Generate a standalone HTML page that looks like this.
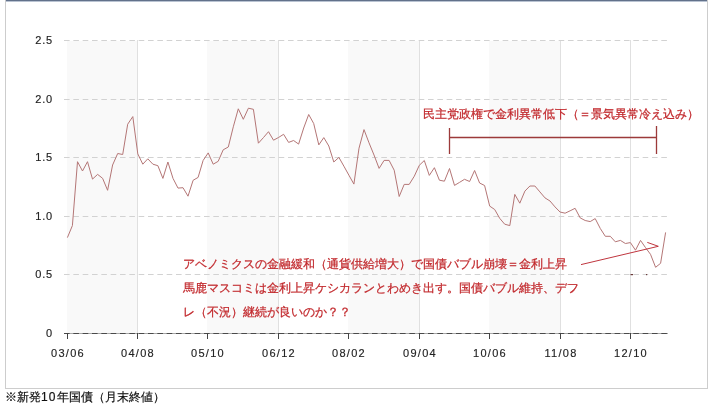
<!DOCTYPE html><html lang="ja"><head><meta charset="utf-8"><style>
html,body{margin:0;padding:0;background:#fff;width:716px;height:409px;overflow:hidden;position:relative}
.t{position:absolute;will-change:transform;font-family:"Liberation Sans",sans-serif;white-space:nowrap;line-height:14px}
.yl{font-size:11px;color:#222;-webkit-text-stroke:0.15px #222;letter-spacing:0.8px;text-align:right;width:60px}
.xl{font-size:11px;color:#222;-webkit-text-stroke:0.15px #222;letter-spacing:1.3px;text-align:center;width:60px}
.r{font-size:12px;color:#c22a2e;-webkit-text-stroke:0.25px #c22a2e}
</style></head><body>
<svg width="716" height="409" viewBox="0 0 716 409" style="position:absolute;left:0;top:0"><rect x="5.5" y="0.5" width="702" height="388" fill="#fff" stroke="#cdcdcd" stroke-width="1"/><rect x="6" y="0" width="701" height="1" fill="#62718a"/><rect x="6" y="1" width="701" height="1" fill="#b9c3d2"/><rect x="67" y="41" width="70" height="292" fill="#f9f9f9"/><rect x="207" y="41" width="71" height="292" fill="#f9f9f9"/><rect x="348" y="41" width="71" height="292" fill="#f9f9f9"/><rect x="489" y="41" width="71" height="292" fill="#f9f9f9"/><line x1="137.5" y1="40" x2="137.5" y2="333" stroke="#e0e0e0" stroke-width="1"/><line x1="278.5" y1="40" x2="278.5" y2="333" stroke="#e0e0e0" stroke-width="1"/><line x1="419.5" y1="40" x2="419.5" y2="333" stroke="#e0e0e0" stroke-width="1"/><line x1="560.5" y1="40" x2="560.5" y2="333" stroke="#e0e0e0" stroke-width="1"/><line x1="630.5" y1="40" x2="630.5" y2="333" stroke="#e0e0e0" stroke-width="1"/><line x1="64" y1="40.5" x2="668" y2="40.5" stroke="#d2d2d2" stroke-width="1" stroke-dasharray="5.6 3.733"/><line x1="64" y1="99.5" x2="668" y2="99.5" stroke="#d2d2d2" stroke-width="1" stroke-dasharray="5.6 3.733"/><line x1="64" y1="157.5" x2="668" y2="157.5" stroke="#d2d2d2" stroke-width="1" stroke-dasharray="5.6 3.733"/><line x1="64" y1="216.5" x2="668" y2="216.5" stroke="#d2d2d2" stroke-width="1" stroke-dasharray="5.6 3.733"/><line x1="64" y1="274.5" x2="668" y2="274.5" stroke="#d2d2d2" stroke-width="1" stroke-dasharray="5.6 3.733"/><line x1="64" y1="333.5" x2="668" y2="333.5" stroke="#a8a8a8" stroke-width="1"/><line x1="64" y1="333.5" x2="668" y2="333.5" stroke="#4a4a4a" stroke-width="1" stroke-dasharray="5.6 3.733"/><line x1="67.5" y1="333" x2="67.5" y2="339" stroke="#444" stroke-width="1"/><line x1="137.5" y1="333" x2="137.5" y2="339" stroke="#444" stroke-width="1"/><line x1="207.5" y1="333" x2="207.5" y2="339" stroke="#444" stroke-width="1"/><line x1="278.5" y1="333" x2="278.5" y2="339" stroke="#444" stroke-width="1"/><line x1="348.5" y1="333" x2="348.5" y2="339" stroke="#444" stroke-width="1"/><line x1="419.5" y1="333" x2="419.5" y2="339" stroke="#444" stroke-width="1"/><line x1="489.5" y1="333" x2="489.5" y2="339" stroke="#444" stroke-width="1"/><line x1="560.5" y1="333" x2="560.5" y2="339" stroke="#444" stroke-width="1"/><line x1="630.5" y1="333" x2="630.5" y2="339" stroke="#444" stroke-width="1"/><rect x="630.5" y="274" width="2.5" height="1.2" fill="#6a3a3a"/><rect x="646" y="274" width="1.2" height="1.2" fill="#6a3a3a"/><polyline points="67.4,237.6 72.4,225.6 77.5,161.7 82.5,171.0 87.5,161.7 92.5,179.1 97.6,174.4 102.6,178.3 107.6,190.3 112.6,165.0 117.7,153.5 122.7,154.5 127.7,124.2 132.8,116.6 137.8,153.9 142.8,164.2 147.8,158.8 152.9,164.2 157.9,165.7 162.9,178.4 167.9,162.0 173.0,178.4 178.0,188.1 183.0,187.7 188.0,196.2 193.1,180.3 198.1,177.4 203.1,160.5 208.2,152.9 213.2,164.2 218.2,161.3 223.2,149.8 228.3,147.0 233.3,126.8 238.3,108.8 243.3,119.3 248.4,108.2 253.4,109.3 258.4,143.2 263.5,137.5 268.5,131.7 273.5,140.2 278.5,137.5 283.6,134.3 288.6,142.4 293.6,140.5 298.6,144.1 303.7,128.0 308.7,114.5 313.7,123.5 318.8,144.9 323.8,137.6 328.8,146.0 333.8,162.0 338.9,157.4 343.9,166.2 348.9,175.2 353.9,184.1 359.0,148.2 364.0,129.6 369.0,142.8 374.0,155.0 379.1,168.4 384.1,160.4 389.1,160.4 394.2,170.2 399.2,196.5 404.2,184.4 409.2,184.4 414.3,176.2 419.3,165.3 424.3,160.5 429.3,175.4 434.4,167.7 439.4,180.2 444.4,181.2 449.5,168.5 454.5,185.4 459.5,182.4 464.5,179.3 469.6,181.5 474.6,170.5 479.6,183.0 484.6,185.5 489.7,206.1 494.7,209.5 499.7,218.3 504.7,224.2 509.8,225.6 514.8,194.4 519.8,203.2 524.9,191.1 529.9,186.0 534.9,186.0 539.9,191.9 545.0,197.9 550.0,201.0 555.0,206.9 560.0,212.0 565.1,213.2 570.1,210.8 575.1,208.3 580.2,217.9 585.2,220.5 590.2,221.6 595.2,218.6 600.3,228.5 605.3,236.3 610.3,236.3 615.3,241.8 620.4,240.4 625.4,243.5 630.4,242.6 635.5,250.2 640.5,240.4 645.5,247.6 650.5,254.3 655.6,267.3 660.6,263.3 665.6,232.4" fill="none" stroke="#b47676" stroke-width="1" stroke-linejoin="miter"/><line x1="449.5" y1="128" x2="449.5" y2="154" stroke="#9c3a3a" stroke-width="1.3"/><line x1="656.5" y1="126" x2="656.5" y2="154" stroke="#9c3a3a" stroke-width="1.3"/><line x1="449.5" y1="137.5" x2="656.5" y2="137.5" stroke="#9c3a3a" stroke-width="1.3"/><line x1="581" y1="264.6" x2="658.3" y2="246.3" stroke="#bc2a34" stroke-width="0.95"/><line x1="647.3" y1="242.4" x2="658.3" y2="246.3" stroke="#bc2a34" stroke-width="0.95"/></svg>
<div class="t yl" style="left:-7.5px;top:32.6px">2.5</div>
<div class="t yl" style="left:-7.5px;top:91.6px">2.0</div>
<div class="t yl" style="left:-7.5px;top:149.6px">1.5</div>
<div class="t yl" style="left:-7.5px;top:208.6px">1.0</div>
<div class="t yl" style="left:-7.5px;top:266.6px">0.5</div>
<div class="t yl" style="left:-7.5px;top:325.6px">0</div>
<div class="t xl" style="left:38.2px;top:346px">03/06</div>
<div class="t xl" style="left:108.2px;top:346px">04/08</div>
<div class="t xl" style="left:178.2px;top:346px">05/10</div>
<div class="t xl" style="left:249.2px;top:346px">06/12</div>
<div class="t xl" style="left:319.2px;top:346px">08/02</div>
<div class="t xl" style="left:390.2px;top:346px">09/04</div>
<div class="t xl" style="left:460.2px;top:346px">10/06</div>
<div class="t xl" style="left:531.2px;top:346px">11/08</div>
<div class="t xl" style="left:601.2px;top:346px">12/10</div>
<div class="t r" style="left:422.5px;top:106.6px">民主党政権で金利異常低下（＝景気異常冷え込み）</div>
<div class="t r" style="left:182.5px;top:257px">アベノミクスの金融緩和（通貨供給増大）で国債バブル崩壊＝金利上昇</div>
<div class="t r" style="left:182.5px;top:281px">馬鹿マスコミは金利上昇ケシカランとわめき出す。国債バブル維持、デフ</div>
<div class="t r" style="left:182.5px;top:304.5px">レ（不況）継続が良いのか？？</div>
<div class="t" style="left:5px;top:389.8px;font-size:12px;color:#111;-webkit-text-stroke:0.2px #111">※新発<span style="letter-spacing:1.1px">10</span>年国債（月末終値）</div>
</body></html>
